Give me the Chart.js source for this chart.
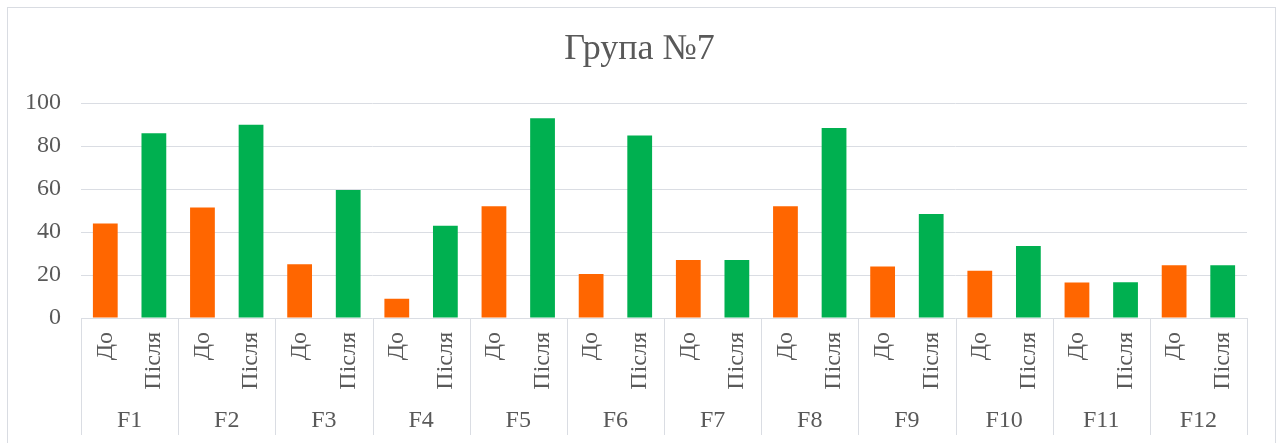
<!DOCTYPE html>
<html>
<head>
<meta charset="utf-8">
<script src="https://cdn.jsdelivr.net/npm/chart.js@4/dist/chart.umd.min.js"></script>
<style>
  html, body { margin: 0; padding: 0; background: #fff; overflow: hidden; }
  #frame { position: absolute; left: 7px; top: 7px; width: 1269px; height: 450px; border: 1px solid #d9dce2; box-sizing: border-box; }
  #wrap { position: absolute; left: 0; top: 0; width: 1279px; height: 443px; }
</style>
</head>
<body>
<div id="frame"></div>
<div id="wrap"><canvas id="c"></canvas></div>
<script>
const categories = ['F1','F2','F3','F4','F5','F6','F7','F8','F9','F10','F11','F12'];
const phases = ['До', 'Після'];
const before = [44, 51.5, 25, 9, 52, 20.5, 27, 52, 24, 22, 16.5, 24.6];
const after  = [86, 90, 59.6, 43, 93, 85, 27, 88.5, 48.4, 33.5, 16.6, 24.6];
const yTicks = [0, 20, 40, 60, 80, 100];

const subLabels = categories.flatMap(() => phases);
const beforeData = before.flatMap(v => [v, null]);
const afterData = after.flatMap(v => [null, v]);

const textColor = '#595959';
const gridColor = '#dadde3';
const serif = "'Liberation Serif', 'Times New Roman', serif";

const dividers = {
  id: 'dividers',
  afterDraw(chart) {
    const x2 = chart.scales.x2;
    const ctx = chart.ctx;
    const top = chart.chartArea.bottom;
    ctx.save();
    ctx.strokeStyle = gridColor;
    ctx.lineWidth = 1;
    for (let i = 0; i <= categories.length; i++) {
      const px = Math.round(x2.getPixelForValue(i - 0.5)) + 0.5;
      ctx.beginPath();
      ctx.moveTo(px, top);
      ctx.lineTo(px, 435);
      ctx.stroke();
    }
    ctx.restore();
  }
};

new Chart(document.getElementById('c'), {
  type: 'bar',
  data: {
    labels: subLabels,
    datasets: [
      { label: 'До', data: beforeData, backgroundColor: '#FF6600', skipNull: true },
      { label: 'Після', data: afterData, backgroundColor: '#00B050', skipNull: true }
    ]
  },
  options: {
    responsive: true,
    maintainAspectRatio: false,
    animation: false,
    layout: { padding: { left: 0, right: 0, top: 0, bottom: 0 } },
    datasets: { bar: { barPercentage: 0.51, categoryPercentage: 1.0 } },
    plugins: {
      legend: { display: false },
      tooltip: { enabled: false },
      title: {
        display: true,
        text: 'Група №7',
        color: textColor,
        font: { family: serif, size: 36, weight: 'normal' },
        padding: { top: 28, bottom: 32 }
      }
    },
    scales: {
      y: {
        min: 0, max: 100,
        afterFit: s => { s.width = 81; },
        afterBuildTicks: s => { s.ticks = yTicks.map(v => ({ value: v })); },
        ticks: { color: textColor, font: { family: serif, size: 24 }, padding: 20 },
        grid: { color: gridColor, drawTicks: false },
        border: { display: false }
      },
      yRight: {
        type: 'linear',
        position: 'right',
        afterFit: s => { s.width = 32; },
        ticks: { display: false },
        grid: { display: false, drawTicks: false },
        border: { display: false }
      },
      x: {
        type: 'category',
        position: 'bottom',
        weight: 0,
        afterFit: s => { s.height = 72; },
        ticks: { color: textColor, font: { family: serif, size: 24 }, autoSkip: false, minRotation: 90, maxRotation: 90, padding: 14 },
        grid: { display: false, drawTicks: false },
        border: { display: false }
      },
      x2: {
        type: 'category',
        position: 'bottom',
        weight: 1,
        labels: categories,
        offset: true,
        afterFit: s => { s.height = 53; },
        ticks: { color: textColor, font: { family: serif, size: 24 }, autoSkip: false, maxRotation: 0, padding: 16 },
        grid: { display: false, drawTicks: false },
        border: { display: false }
      }
    }
  },
  plugins: [dividers]
});
</script>
</body>
</html>
